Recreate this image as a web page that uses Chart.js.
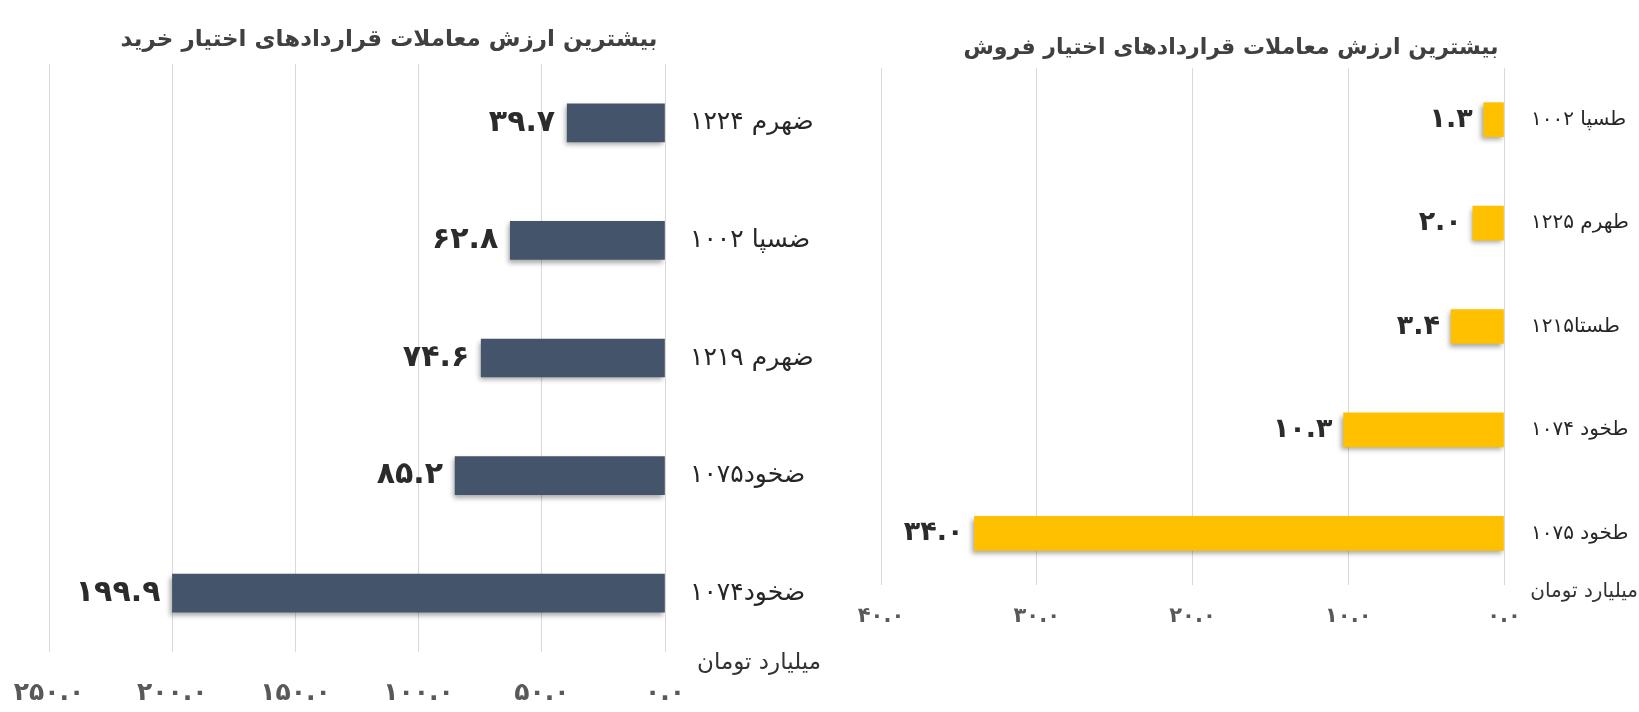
<!DOCTYPE html>
<html>
<head>
<meta charset="utf-8">
<script src="https://cdn.jsdelivr.net/npm/chart.js@4.4.1/dist/chart.umd.min.js"></script>
<style>
  html, body { margin: 0; padding: 0; background: #ffffff; }
  body { width: 1639px; height: 712px; position: relative; overflow: hidden; }
  #wrapBuy { position: absolute; left: 0; top: 0; width: 845px; height: 712px; }
  #wrapSell { position: absolute; left: 845px; top: 0; width: 794px; height: 712px; }
</style>
</head>
<body>
<div id="wrapBuy"><canvas id="buy"></canvas></div>
<div id="wrapSell"><canvas id="sell"></canvas></div>
<script>
// ---- data ----
const buyTitle = 'بیشترین ارزش معاملات قراردادهای اختیار خرید';
const buyLabels = ['ضهرم ۱۲۲۴', 'ضسپا ۱۰۰۲', 'ضهرم ۱۲۱۹', 'ضخود۱۰۷۵', 'ضخود۱۰۷۴'];
const buyValues = [39.7, 62.8, 74.6, 85.2, 199.9];
const buyTicks = [0, 50, 100, 150, 200, 250];

const sellTitle = 'بیشترین ارزش معاملات قراردادهای اختیار فروش';
const sellLabels = ['طسپا ۱۰۰۲', 'طهرم ۱۲۲۵', 'طستا۱۲۱۵', 'طخود ۱۰۷۴', 'طخود ۱۰۷۵'];
const sellValues = [1.3, 2.0, 3.4, 10.3, 34.0];
const sellTicks = [0, 10, 20, 30, 40];

const unitLabel = 'میلیارد تومان';

// ---- helpers ----
const FONT = '"DejaVu Sans", sans-serif';
function fa(s) { return String(s).replace(/\d/g, d => '۰۱۲۳۴۵۶۷۸۹'[d]); }

function makeDecor(opts) {
  return {
    id: 'decor',
    beforeDatasetsDraw(chart) {
      const ctx = chart.ctx;
      ctx.save();
      ctx.shadowColor = 'rgba(0,0,0,0.35)';
      ctx.shadowBlur = 5;
      ctx.shadowOffsetX = -2;
      ctx.shadowOffsetY = 3;
    },
    afterDatasetsDraw(chart) {
      const ctx = chart.ctx;
      ctx.restore();
      const meta = chart.getDatasetMeta(0);
      const data = chart.data.datasets[0].data;
      ctx.save();
      ctx.font = 'bold ' + opts.valueSize + 'px ' + FONT;
      ctx.fillStyle = '#2b2b2b';
      ctx.textAlign = 'right';
      ctx.textBaseline = 'middle';
      meta.data.forEach((bar, i) => {
        ctx.fillText(fa(data[i].toFixed(1)), bar.x - opts.valueGap, bar.y);
      });
      ctx.restore();
    },
    afterDraw(chart) {
      const ctx = chart.ctx;
      ctx.save();
      ctx.font = 'bold ' + opts.titleSize + 'px ' + FONT;
      ctx.fillStyle = '#404040';
      ctx.textAlign = 'center';
      ctx.textBaseline = 'middle';
      ctx.fillText(opts.title, opts.titleX, opts.titleY);
      ctx.font = opts.unitSize + 'px ' + FONT;
      ctx.fillStyle = '#333333';
      ctx.textAlign = 'right';
      ctx.fillText(unitLabel, opts.unitX, opts.unitY);
      ctx.restore();
    }
  };
}

function makeChart(canvasId, labels, values, ticks, color, cfg) {
  const maxV = ticks[ticks.length - 1];
  const step = ticks[1] - ticks[0];
  return new Chart(document.getElementById(canvasId), {
    type: 'bar',
    data: {
      labels: labels,
      datasets: [{
        data: values,
        backgroundColor: color,
        borderWidth: 0,
        barThickness: cfg.barThickness
      }]
    },
    options: {
      indexAxis: 'y',
      responsive: true,
      maintainAspectRatio: false,
      animation: false,
      events: [],
      layout: { padding: { left: cfg.padLeft, right: 0, top: cfg.padTop, bottom: 0 } },
      plugins: { legend: { display: false }, tooltip: { enabled: false }, title: { display: false } },
      scales: {
        x: {
          type: 'linear',
          reverse: true,
          min: 0,
          max: maxV,
          afterBuildTicks(scale) { scale.ticks = ticks.map(v => ({ value: v })); },
          afterFit(scale) { scale.height = cfg.xHeight; },
          grid: { display: true, color: '#d9d9d9', lineWidth: 1, drawTicks: false },
          border: { display: false },
          ticks: {
            stepSize: step,
            padding: cfg.tickPad,
            color: '#595959',
            font: { family: FONT, size: cfg.tickSize, weight: 'bold' },
            callback: v => fa(Number(v).toFixed(1))
          }
        },
        y: {
          position: 'right',
          afterFit(scale) { scale.width = cfg.yWidth; },
          grid: { display: false, drawTicks: false },
          border: { display: false },
          ticks: {
            padding: cfg.labelPad,
            color: '#262626',
            font: { family: FONT, size: cfg.labelSize }
          }
        }
      }
    },
    plugins: [makeDecor(cfg.decor)]
  });
}

makeChart('buy', buyLabels, buyValues, buyTicks, '#44546A', {
  barThickness: 38, padLeft: 49, padTop: 64, xHeight: 60, yWidth: 180,
  tickPad: 26, tickSize: 25, labelPad: 25, labelSize: 25,
  decor: { title: buyTitle, titleSize: 23, titleX: 389, titleY: 40, valueSize: 30, valueGap: 12,
           unitSize: 23, unitX: 821, unitY: 663 }
});

makeChart('sell', sellLabels, sellValues, sellTicks, '#FFC000', {
  barThickness: 34, padLeft: 36, padTop: 68, xHeight: 127, yWidth: 135,
  tickPad: 19, tickSize: 21, labelPad: 27, labelSize: 20,
  decor: { title: sellTitle, titleSize: 22, titleX: 386, titleY: 48, valueSize: 27, valueGap: 11,
           unitSize: 20, unitX: 793, unitY: 592 }
});
</script>
</body>
</html>
